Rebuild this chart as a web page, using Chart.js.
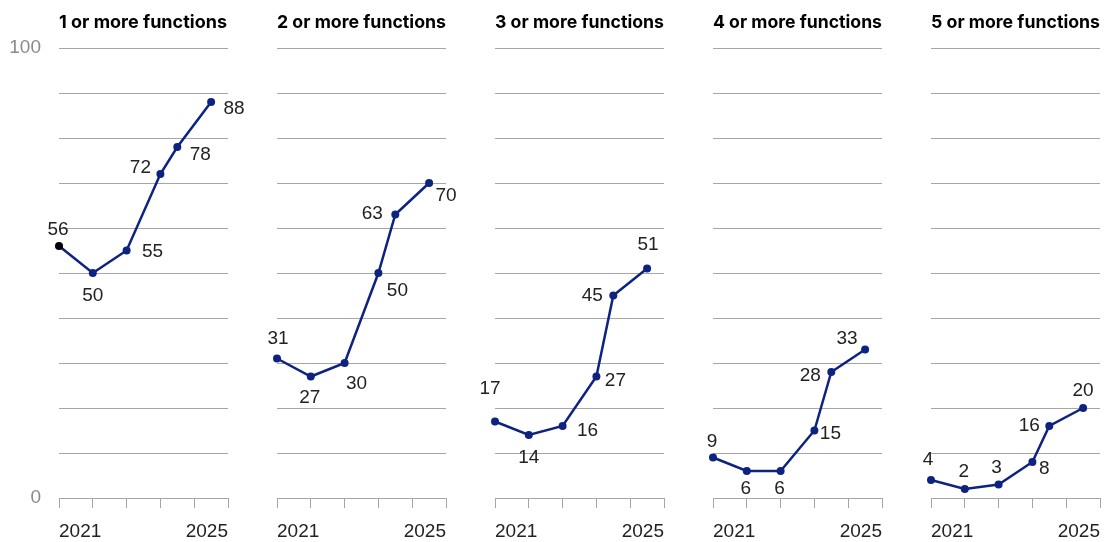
<!DOCTYPE html>
<html>
<head>
<meta charset="utf-8">
<script src="https://cdn.jsdelivr.net/npm/chart.js@4.4.1/dist/chart.umd.min.js"></script>
<style>
  html, body { margin: 0; padding: 0; background: #fff; overflow: hidden; }
  #wrap { position: relative; width: 1108px; height: 542px; overflow: hidden; }
  #wrap canvas { position: absolute; top: 0; }
</style>
</head>
<body>
<div id="wrap"></div>
<script>
// survey waves on the x axis (2021 ... 2025), in years from the first wave
const surveyPoints = [0, 1, 2, 3, 3.5, 4.5];
const xTickLabels = { 0: '2021', 5: '2025' };
const yTickLabels = [0, 100];

const panelTitles = [
  '1 or more functions',
  '2 or more functions',
  '3 or more functions',
  '4 or more functions',
  '5 or more functions'
];

const oneOrMore   = [56, 50, 55, 72, 78, 88];
const twoOrMore   = [31, 27, 30, 50, 63, 70];
const threeOrMore = [17, 14, 16, 27, 45, 51];
const fourOrMore  = [9, 6, 6, 15, 28, 33];
const fiveOrMore  = [4, 2, 3, 8, 16, 20];

const panelValues = [oneOrMore, twoOrMore, threeOrMore, fourOrMore, fiveOrMore];

// where each number sits relative to its point (dx, dy of text centre)
const labelOffsets = [
  [[-1, -16], [0, 23], [26, 1], [-20, -6], [23, 8], [23, 7]],
  [[1, -20], [-1, 21], [12, 21], [19, 18], [-23, -1], [17, 13]],
  [[-5, -33], [0, 23], [25, 5], [19, 4], [-21, 0], [1, -24]],
  [[-1, -16], [-1, 18], [-1, 18], [16, 3], [-21, 4], [-18, -11]],
  [[-3, -20], [-1, -17], [-2, -17], [12, 7], [-20, 0], [0, -17]]
];

const NAVY = '#0e2280';
const GRID = '#a6a6a6';
const TITLE_FONT = 'Inter, "Liberation Sans", sans-serif';
const NUM_FONT = '"Liberation Sans", Arial, sans-serif';

const valueLabels = {
  id: 'valueLabels',
  afterDatasetsDraw(chart, args, opts) {
    const ctx = chart.ctx;
    const meta = chart.getDatasetMeta(0);
    const data = chart.data.datasets[0].data;
    ctx.save();
    ctx.font = '400 19px ' + NUM_FONT;
    ctx.fillStyle = '#222';
    ctx.textAlign = 'center';
    ctx.textBaseline = 'middle';
    meta.data.forEach((pt, i) => {
      const off = opts.offsets[i];
      ctx.fillText(String(data[i].y), pt.x + off[0], pt.y + off[1]);
    });
    ctx.restore();
  }
};

const wrap = document.getElementById('wrap');

panelValues.forEach((values, p) => {
  const canvas = document.createElement('canvas');
  canvas.width = 248;
  canvas.height = 542;
  canvas.style.left = (218 * p) + 'px';
  canvas.style.width = '248px';
  canvas.style.height = '542px';
  wrap.appendChild(canvas);

  const pointColors = values.map((v, i) => (p === 0 && i === 0) ? '#000' : NAVY);

  new Chart(canvas, {
    type: 'line',
    data: {
      datasets: [{
        data: values.map((v, i) => ({ x: surveyPoints[i], y: v })),
        borderColor: NAVY,
        borderWidth: 2.5,
        pointBackgroundColor: pointColors,
        pointBorderWidth: 0,
        pointRadius: 4,
        tension: 0,
        clip: false
      }]
    },
    options: {
      responsive: false,
      animation: false,
      layout: { padding: { left: 0, right: 20, top: 0, bottom: 0 } },
      plugins: {
        legend: { display: false },
        tooltip: { enabled: false },
        title: {
          display: true,
          text: panelTitles[p],
          align: 'start',
          fullSize: false,
          color: '#000',
          font: { family: TITLE_FONT, size: 18, weight: '700' },
          padding: { top: 12, bottom: 14.4 }
        },
        valueLabels: { offsets: labelOffsets[p] }
      },
      scales: {
        x: {
          type: 'linear',
          min: 0,
          max: 5,
          afterFit: scale => { scale.height = 44; },
          border: { display: true, color: GRID, width: 1 },
          grid: { drawOnChartArea: false, drawTicks: true, tickLength: 10, color: GRID },
          ticks: {
            stepSize: 1,
            autoSkip: false,
            maxRotation: 0,
            align: 'inner',
            padding: 12,
            color: '#222',
            font: { family: NUM_FONT, size: 19 },
            callback: v => xTickLabels[v] || ''
          }
        },
        y: {
          min: 0,
          max: 100,
          afterFit: scale => { scale.width = 59; },
          border: { display: false },
          grid: { color: GRID, drawTicks: false, lineWidth: 1 },
          ticks: {
            stepSize: 10,
            padding: 18,
            color: '#8a8a8a',
            font: { family: NUM_FONT, size: 19 },
            callback: v => (p === 0 && yTickLabels.includes(v)) ? String(v) : ''
          }
        }
      }
    },
    plugins: [valueLabels]
  });
});
</script>
</body>
</html>
